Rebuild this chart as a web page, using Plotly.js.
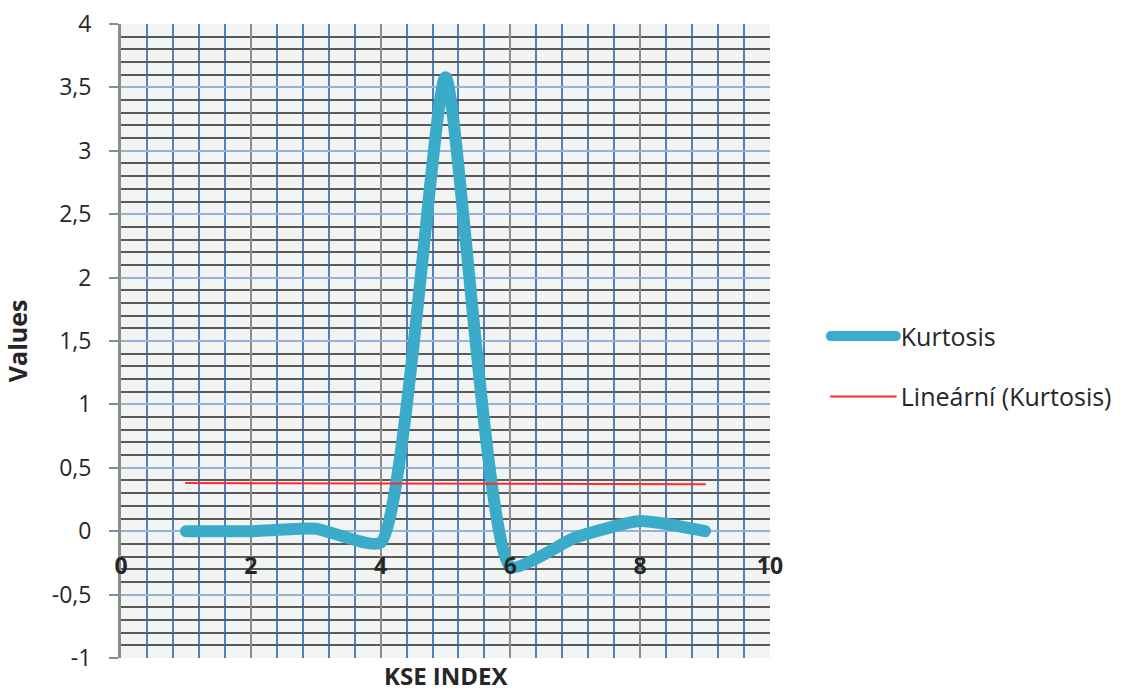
<!DOCTYPE html>
<html>
<head>
<meta charset="utf-8">
<script src="https://cdn.plot.ly/plotly-3.0.1.min.js"></script>
<style>
  html, body { margin: 0; padding: 0; background: #ffffff; }
  #chart { width: 1136px; height: 693px; }
</style>
</head>
<body>
<div id="chart"></div>
<script>
// Data
const kseIndex = [1, 2, 3, 4, 5, 6, 7, 8, 9];
const kurtosis = [0.0, 0.0, 0.02, -0.09, 3.58, -0.28, -0.05, 0.08, 0.0];
const trendX = [1, 9];
const trendY = [0.38, 0.37];
const seriesName = 'Kurtosis';
const trendName = 'Lineární (Kurtosis)';
const xTitle = 'KSE INDEX';
const yTitle = 'Values';
const yTickVals = [-1, -0.5, 0, 0.5, 1, 1.5, 2, 2.5, 3, 3.5, 4];
const yTickText = ['-1', '-0,5', '0', '0,5', '1', '1,5', '2', '2,5', '3', '3,5', '4'];
const xTickVals = [0, 2, 4, 6, 8, 10];
const xTickText = ['0', '2', '4', '6', '8', '10'];

const FONT = '"Open Sans", "Noto Sans", "Liberation Sans", sans-serif';

const traces = [
  {
    x: kseIndex, y: kurtosis, name: seriesName, type: 'scatter', mode: 'lines',
    line: { color: '#3aabc8', width: 12, shape: 'spline', smoothing: 0.5 },
    legendgroup: 'a'
  },
  {
    x: trendX, y: trendY, name: trendName, type: 'scatter', mode: 'lines',
    line: { color: '#ff2a2a', width: 2 },
    legendgroup: 'b'
  }
];

const layout = {
  width: 1136, height: 693,
  margin: { l: 121, r: 366, t: 24, b: 35 },
  paper_bgcolor: '#ffffff',
  plot_bgcolor: '#f2f3f3',
  font: { family: FONT, color: '#262626' },
  showlegend: true,
  legend: {
    x: 1.086, y: 0.46, xanchor: 'left', yanchor: 'middle',
    font: { family: FONT, size: 25, color: '#262626' },
    itemwidth: 65, tracegroupgap: 25, bgcolor: 'rgba(0,0,0,0)'
  },
  xaxis: {
    range: [0, 10], tickmode: 'array', tickvals: xTickVals, ticktext: xTickText,
    anchor: 'free', position: 0.2,
    showgrid: true, gridcolor: '#8c8c8c', gridwidth: 2,
    minor: { dtick: 0.4, tick0: 0, showgrid: true, gridcolor: '#4f81bd', gridwidth: 2, ticks: '' },
    showline: false, zeroline: false, ticks: '',
    ticklabelstandoff: 19,
    tickfont: { family: FONT, size: 23, color: '#262626', weight: 'bold' }
  },
  yaxis: {
    range: [-1, 4], tickmode: 'array', tickvals: yTickVals, ticktext: yTickText,
    showgrid: true, gridcolor: '#95b3d7', gridwidth: 2,
    minor: { dtick: 0.1, tick0: 0, showgrid: true, gridcolor: '#5a5a5a', gridwidth: 2, ticks: '' },
    showline: true, linecolor: '#8c8c8c', linewidth: 3,
    zeroline: false, ticks: 'outside', ticklen: 9, tickcolor: '#8c8c8c', tickwidth: 2,
    tickfont: { family: FONT, size: 23, color: '#262626' },
    ticklabelstandoff: 13
  },
  annotations: [
    { text: '<b>' + xTitle + '</b>', xref: 'paper', yref: 'paper', x: 0.5, y: -0.028,
      xanchor: 'center', yanchor: 'middle', showarrow: false,
      font: { family: FONT, size: 24, color: '#262626' } },
    { text: '<b>' + yTitle + '</b>', xref: 'paper', yref: 'paper', x: -0.16, y: 0.5,
      xanchor: 'center', yanchor: 'middle', textangle: -90, showarrow: false,
      font: { family: FONT, size: 25, color: '#262626' } }
  ]
};

Plotly.newPlot('chart', traces, layout, { displayModeBar: false, staticPlot: true }).then(function () {
  document.querySelectorAll('.scatterlayer .js-line, .legendlines path').forEach(function (p) {
    p.style.strokeLinecap = 'round';
    p.style.strokeLinejoin = 'round';
  });
});
</script>
</body>
</html>
